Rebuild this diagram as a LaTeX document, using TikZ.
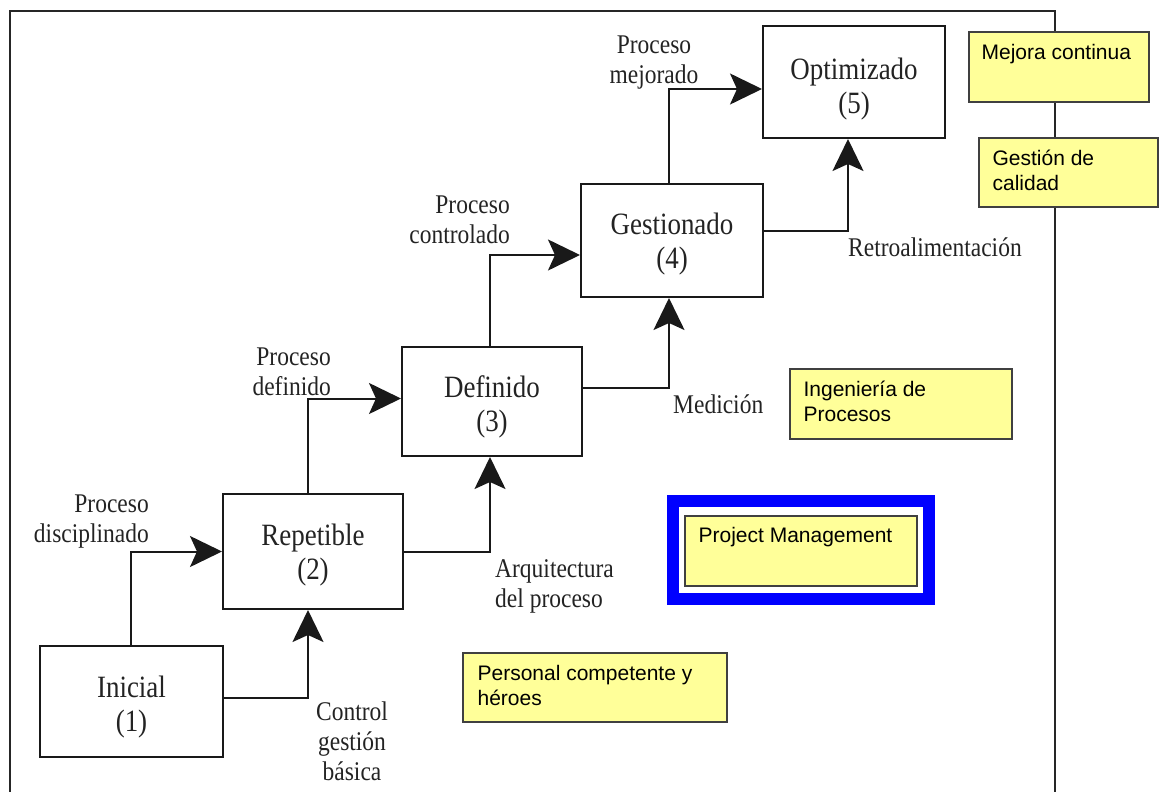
\documentclass[tikz,border=0pt]{standalone}
\usepackage{fontspec}
\usetikzlibrary{arrows.meta}
\newfontfamily\levelfont{Liberation Serif}[FakeStretch=0.87]
\newfontfamily\notefont{Liberation Sans}
\definecolor{notefill}{RGB}{255,255,153}
\definecolor{inkgray}{RGB}{35,35,35}
\definecolor{frameblue}{RGB}{0,0,255}

\begin{document}
\begin{tikzpicture}[x=1pt,y=-1pt,
  level/.style={draw=black!90, line width=2pt, fill=white, inner sep=0pt},
  leveltext/.style={align=center, inner sep=0pt,
    font=\levelfont\fontsize{31}{34}\selectfont, text=inkgray},
  lbl/.style={inner sep=0pt, font=\levelfont\fontsize{27}{30}\selectfont, text=inkgray},
  flow/.style={line width=2pt, draw=black!90, -{Stealth[length=32pt,width=31pt,inset=7pt]}},
  note/.style={draw=black!75, line width=1.2pt, fill=notefill, inner sep=0pt},
  notetext/.style={inner sep=0pt, anchor=base west, align=left,
    font=\notefont\fontsize{21}{25}\selectfont},
]
\useasboundingbox (0,0) rectangle (1159,792);

% outer frame, open at the bottom
\draw[line width=2pt, draw=black!85] (10,792) -- (10,11) -- (1055,11) -- (1055,792);

% maturity levels
\node[level, minimum width=183, minimum height=111] (inicial)    at (131.5,701.5) {};
\node[level, minimum width=180, minimum height=115] (repetible)  at (313,551.5)   {};
\node[level, minimum width=180, minimum height=109] (definido)   at (492,401.5)   {};
\node[level, minimum width=182, minimum height=113] (gestionado) at (672,240.5)   {};
\node[level, minimum width=182, minimum height=112] (optimizado) at (854,82)      {};

\node[leveltext] (tinicial)    at ([yshift=-6pt]inicial.center)    {Inicial\\(1)};
\node[leveltext] (trepetible)  at ([yshift=-4pt]repetible.center)  {Repetible\\(2)};
\node[leveltext] (tdefinido)   at ([yshift=-5pt]definido.center)   {Definido\\(3)};
\node[leveltext] (tgestionado) at ([yshift=-4pt]gestionado.center) {Gestionado\\(4)};
\node[leveltext] (toptimizado) at ([yshift=-7pt]optimizado.center) {Optimizado\\(5)};

% connectors between levels
\draw[flow] ([xshift=-0.5pt]inicial.north) |- (repetible.west);
\draw[flow] ([yshift=4pt]inicial.east) -| ([xshift=-5pt]repetible.south);
\draw[flow] ([xshift=-5pt]repetible.north) |- ([yshift=3pt]definido.west);
\draw[flow] (repetible.east) -| ([xshift=-2pt]definido.south);
\draw[flow] ([xshift=-2pt]definido.north) |- ([yshift=-14.5pt]gestionado.west);
\draw[flow] ([yshift=14pt]definido.east) -| ([xshift=-3pt]gestionado.south);
\draw[flow] ([xshift=-3pt]gestionado.north) |- ([yshift=-7pt]optimizado.west);
\draw[flow] ([yshift=10pt]gestionado.east) -| ([xshift=-6pt]optimizado.south);

% connector labels (base = baseline of the last line)
\node[lbl, anchor=base east, align=right] (ldisc) at (149,542) {Proceso\\disciplinado};
\node[lbl, anchor=base, align=center]     (lctrl) at (352,780) {Control\\gestión\\básica};
\node[lbl, anchor=base east, align=right] (ldef)  at (331,395) {Proceso\\definido};
\node[lbl, anchor=base west, align=left]  (larq)  at (495,607) {Arquitectura\\del proceso};
\node[lbl, anchor=base east, align=right] (lcon)  at (510,243) {Proceso\\controlado};
\node[lbl, anchor=base west]              (lmed)  at (673,413) {Medición};
\node[lbl, anchor=base, align=center]     (lmej)  at (654,83)  {Proceso\\mejorado};
\node[lbl, anchor=base west]              (lret)  at (848,256) {Retroalimentación};

% yellow notes
\node[note, minimum width=180, minimum height=70] (mejora) at (1059,67) {};
\node[notetext] (tmejora) at ([shift={(13pt,-28pt)}]mejora.north west) {Mejora continua};

\node[note, minimum width=179, minimum height=69] (calidad) at (1068.5,172.5) {};
\node[notetext] (tcalidad) at ([shift={(14pt,-53pt)}]calidad.north west) {Gestión de\\calidad};

\node[note, minimum width=222, minimum height=70] (ingenieria) at (901,404) {};
\node[notetext] (tingenieria) at ([shift={(14pt,-53pt)}]ingenieria.north west) {Ingeniería de\\Procesos};

\node[draw=frameblue, line width=12pt, inner sep=0pt, minimum width=256, minimum height=98] (pmframe) at (801,550) {};
\node[note, minimum width=232, minimum height=70] (project) at (801,551) {};
\node[notetext] (tproject) at ([shift={(14pt,-27pt)}]project.north west) {Project Management};

\node[note, minimum width=264, minimum height=69] (personal) at (595,687.5) {};
\node[notetext] (tpersonal) at ([shift={(15pt,-53pt)}]personal.north west) {Personal competente y\\héroes};
\end{tikzpicture}
\end{document}
